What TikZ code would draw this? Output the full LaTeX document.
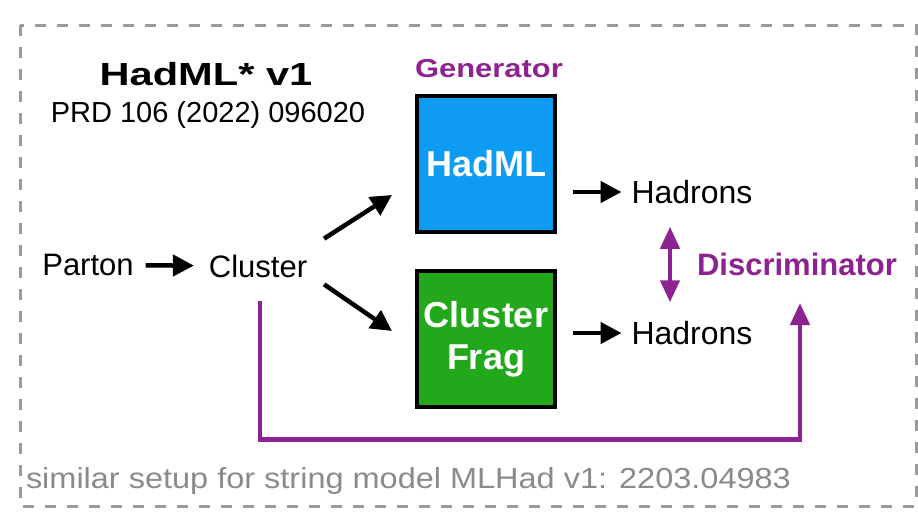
\documentclass[tikz,border=0pt]{standalone}
\usepackage{fontspec}
\usepackage{graphicx}
\setmainfont{Liberation Sans}
\usetikzlibrary{arrows.meta}

\definecolor{hadblue}{HTML}{0D9CF2}
\definecolor{hadgreen}{HTML}{23A81C}
\definecolor{hadpurple}{HTML}{8C2391}
\definecolor{notegray}{HTML}{8A8A8A}
\definecolor{framegray}{HTML}{9A9A9A}

\begin{document}
\begin{tikzpicture}[x=1pt,y=-1pt,
	blktip/.tip={Triangle[length=21pt,width=21pt]},
	purtip/.tip={Triangle[length=22pt,width=19pt]},
	lbl/.style={inner sep=0pt, outer sep=0pt, font=\fontsize{31}{37}\selectfont},
	purplelbl/.style={lbl, text=hadpurple, font=\bfseries\fontsize{31}{37}\selectfont},
	genbox/.style={draw=black, line width=4pt, minimum width=138pt, minimum height=136pt,
		inner sep=0pt, outer sep=0pt, text=white, align=center,
		font=\bfseries\fontsize{36}{42}\selectfont},
	blkarrow/.style={line width=4.5pt, -blktip},
	purparrow/.style={draw=hadpurple, line width=4.5pt, -purtip}]
	\useasboundingbox (0,0) rectangle (918,512);
	\draw[framegray, line width=3pt, dash pattern=on 11pt off 11pt] (20,25) rectangle (916,506);

	% headings
	\node[lbl, font=\bfseries\fontsize{32}{38}\selectfont] (title) at (206,74) {\scalebox{1.3}[1]{HadML* v1}};
	\node[lbl, font=\fontsize{29}{35}\selectfont] (ref) at (208,115) {PRD 106 (2022) 096020};
	\node[lbl, text=hadpurple, font=\bfseries\fontsize{26}{31}\selectfont] (gen) at (489,69) {\scalebox{1.19}[1]{Generator}};

	% generators
	\node[genbox, fill=hadblue] (hadml) at (486,164) {HadML};
	\node[genbox, fill=hadgreen] (clfrag) at (486,339) {Cluster\\Frag};

	\node[lbl] (parton) at (88,265) {Parton};
	\node[lbl] (cluster) at (258,266) {Cluster};
	\node[lbl, font=\fontsize{32}{38}\selectfont] (hadtop) at (692,192) {Hadrons};
	\node[lbl, font=\fontsize{32}{38}\selectfont] (hadbot) at (692,333) {Hadrons};
	\node[purplelbl] (disc) at (797,264) {Discriminator};
	\node[lbl, text=notegray, anchor=west, font=\fontsize{29}{35}\selectfont] (note) at (26,481)
		{\scalebox{1.12}[1]{similar setup for string model MLHad v1: 2203.04983}};
	\coordinate (discin) at (800,303);

	\draw[blkarrow, shorten <=12pt, shorten >=15pt] (parton) -- (cluster);
	\draw[blkarrow] ([shift={(17,-16)}]cluster.north east) -- ([shift={(-25,31)}]hadml.west);
	\draw[blkarrow] ([shift={(17,7)}]cluster.south east) -- ([shift={(-25,-8)}]clfrag.west);
	\draw[blkarrow, shorten <=18pt, shorten >=10pt] (hadml.east |- hadtop) -- (hadtop);
	\draw[blkarrow, shorten <=18pt, shorten >=10pt] (clfrag.east |- hadbot) -- (hadbot);

	% discriminator
	\draw[purparrow, purtip-purtip, shorten <=23pt, shorten >=19pt] ([xshift=-22pt]hadtop.south) -- ([xshift=-22pt]hadbot.north);
	\draw[purparrow] ([shift={(2,24)}]cluster.south) -- ++(0,138) -| (discin);
\end{tikzpicture}
\end{document}
